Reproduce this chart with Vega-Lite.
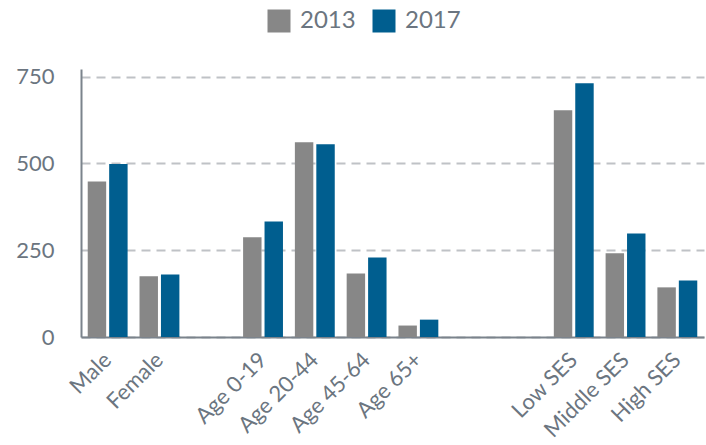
{
  "$schema": "https://vega.github.io/schema/vega-lite/v6.json",
  "width": 623,
  "height": 268,
  "autosize": {"type": "none"},
  "padding": {"left": 81, "top": 69, "right": 2, "bottom": 108},
  "background": "white",
  "data": {
    "values": [
      {"group": "Male", "year": "2013", "value": 448},
      {"group": "Male", "year": "2017", "value": 498},
      {"group": "Female", "year": "2013", "value": 175},
      {"group": "Female", "year": "2017", "value": 180},
      {"group": "Age 0-19", "year": "2013", "value": 287},
      {"group": "Age 0-19", "year": "2017", "value": 333},
      {"group": "Age 20-44", "year": "2013", "value": 561},
      {"group": "Age 20-44", "year": "2017", "value": 555},
      {"group": "Age 45-64", "year": "2013", "value": 183},
      {"group": "Age 45-64", "year": "2017", "value": 229},
      {"group": "Age 65+", "year": "2013", "value": 33},
      {"group": "Age 65+", "year": "2017", "value": 50},
      {"group": "Low SES", "year": "2013", "value": 653},
      {"group": "Low SES", "year": "2017", "value": 731},
      {"group": "Middle SES", "year": "2013", "value": 241},
      {"group": "Middle SES", "year": "2017", "value": 298},
      {"group": "High SES", "year": "2013", "value": 143},
      {"group": "High SES", "year": "2017", "value": 163}
    ]
  },
  "mark": {"type": "bar"},
  "encoding": {
    "x": {
      "field": "group",
      "type": "nominal",
      "title": null,
      "sort": null,
      "scale": {
        "domain": ["Male", "Female", " ", "Age 0-19", "Age 20-44", "Age 45-64", "Age 65+", "  ", "   ", "Low SES", "Middle SES", "High SES"],
        "paddingInner": 0.23,
        "paddingOuter": 0.13
      },
      "axis": {
        "labelAngle": -45,
        "labelAlign": "right",
        "labelBaseline": "middle",
        "labelFont": "Lato",
        "labelFontSize": 22,
        "labelColor": "#6b7580",
        "labelPadding": 19,
        "labelLimit": 300,
        "ticks": false,
        "domainColor": "#7b838c",
        "domainWidth": 2,
        "grid": false
      }
    },
    "xOffset": {
      "field": "year",
      "type": "nominal",
      "scale": {"paddingInner": 0.14}
    },
    "y": {
      "field": "value",
      "type": "quantitative",
      "title": null,
      "scale": {"domain": [0, 772], "nice": false},
      "axis": {
        "values": [0, 250, 500, 750],
        "labelFont": "Lato",
        "labelFontSize": 22,
        "labelColor": "#6b7580",
        "labelPadding": 27,
        "ticks": false,
        "domainColor": "#7b838c",
        "domainWidth": 2,
        "grid": true,
        "gridColor": "#bfc2c6",
        "gridWidth": 2,
        "gridDash": [9, 6]
      }
    },
    "color": {
      "field": "year",
      "type": "nominal",
      "title": null,
      "scale": {"domain": ["2013", "2017"], "range": ["#878787", "#005e8f"]},
      "legend": {
        "orient": "none",
        "legendX": 186,
        "legendY": -60,
        "direction": "horizontal",
        "padding": 0,
        "symbolType": "square",
        "symbolSize": 529,
        "symbolOpacity": 1,
        "symbolStrokeWidth": 0,
        "labelFont": "Lato",
        "labelFontSize": 24,
        "labelColor": "#6b7580",
        "labelOffset": 9,
        "columnPadding": 16
      }
    }
  },
  "config": {"view": {"stroke": null}}
}
